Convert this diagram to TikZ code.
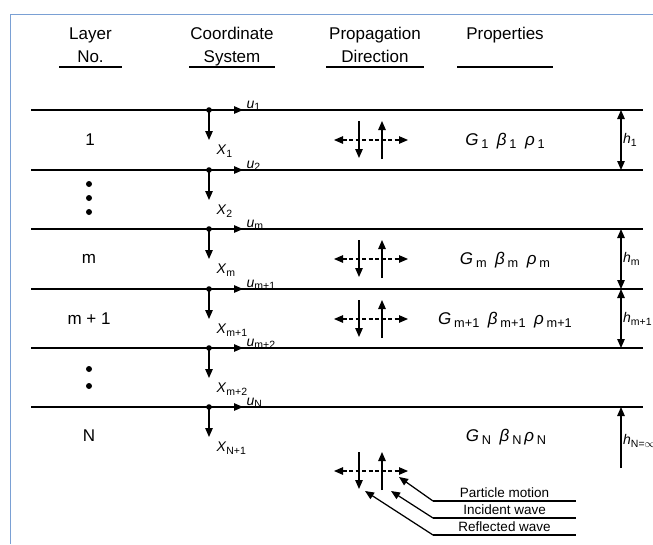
\documentclass[tikz,border=0pt]{standalone}
\usepackage{fontspec}
\setmainfont{Liberation Sans}
\usetikzlibrary{arrows.meta}
\definecolor{framecol}{RGB}{122,160,212}
\newcommand{\lowsub}[1]{\raisebox{-0.4ex}{\scalebox{0.75}{#1}}}
\newcommand{\hstrut}{\rule[-4pt]{0pt}{4pt}}

\begin{document}
\begin{tikzpicture}[x=1pt, y=-1pt, line width=1.25pt, >={Triangle[length=9pt, width=7.5pt]},
    head/.style={font=\fontsize{17}{23}\selectfont, align=center, anchor=south, inner xsep=0pt, inner ysep=0pt},
    layerno/.style={font=\fontsize{17}{20}\selectfont},
    axlabel/.style={font=\fontsize{14}{16}\selectfont, inner sep=1pt},
    hlabel/.style={font=\fontsize{14}{16}\selectfont, inner sep=1.5pt},
    prop/.style={font=\fontsize{17}{20}\selectfont},
    tag/.style={font=\fontsize{13.5}{15}\selectfont, anchor=south west, minimum width=142pt, text depth=0pt, inner xsep=0pt, inner ysep=2.5pt}]
    \useasboundingbox (0,0) rectangle (653,544);

    % frame
    \draw[framecol, line width=1pt] (10.5,544) -- (10.5,14) -- (653,14);

    % column headings
    \node[head, minimum width=61pt] (hLayer) at (90.5,67) {Layer\\No.\hstrut};
    \node[head, minimum width=84pt] (hCoord) at (232,67) {Coordinate\\System\hstrut};
    \node[head, minimum width=96pt] (hProp) at (375,67) {Propagation\\Direction\hstrut};
    \node[head, minimum width=94pt] (hMat) at (505,67) {Properties\\\hstrut};
    \foreach \n in {hLayer, hCoord, hProp, hMat}
        \draw (\n.south west) -- (\n.south east);

    % interfaces
    \foreach \y/\lw in {110/1.4, 170/2.8, 229/1.2, 289/1.7, 348/1.4, 407/1.4}
        \draw[line width=\lw pt] (31,\y) -- (643,\y);

    % layer numbers
    \node[layerno] (l1) at (90,140) {1};
    \node[layerno] (lm) at (89,259) {m};
    \node[layerno] (lm1) at (89,319) {m + 1};
    \node[layerno] (lN) at (89,436) {N};
    \foreach \y in {184,198,212,369,386}
        \fill (89,\y) circle (3pt);

    % local coordinate systems
    \foreach \y/\u/\xx [count=\i] in {110/1/1, 170/2/2, 229/m/m, 289/m+1/m+1, 348/m+2/m+2, 407/N/N+1} {
        \coordinate (o\i) at (209,\y);
        \fill (o\i) circle (2.8pt);
        \draw[->] (o\i) -- ++(34,0) coordinate (ut\i);
        \draw[->] (o\i) -- ++(0,30) coordinate (xt\i);
        \node[axlabel, anchor=base west] (u\i) at ([shift={(2,-2)}]ut\i) {\textit{u}\lowsub{\u}};
        \node[axlabel, anchor=north west] (x\i) at ([shift={(6,3)}]xt\i) {\textit{X}\lowsub{\xx}};
    }

    % propagation directions
    \foreach \cy [count=\j] in {140,259,319,471} {
        \coordinate (pc\j) at (371,\cy);
        \draw[<->, line width=1.1pt, dash pattern=on 4pt off 2.5pt] ([xshift=-37]pc\j) -- ([xshift=37]pc\j);
        \draw[->] ([shift={(-12,-19)}]pc\j) -- ([shift={(-12,18)}]pc\j);
        \draw[->] ([shift={(11,19)}]pc\j) -- ([shift={(11,-19)}]pc\j);
    }

    % properties
    \node[prop] (m1) at (505,141) {\textit{G}\,\lowsub{1}\enspace\textit{β}\,\lowsub{1}\enspace\textit{ρ}\,\lowsub{1}};
    \node[prop] (mm) at (505,260) {\textit{G}\,\lowsub{m}\enspace\textit{β}\,\lowsub{m}\enspace\textit{ρ}\,\lowsub{m}};
    \node[prop] (mm1) at (505,320) {\textit{G}\,\lowsub{m+1}\enspace\textit{β}\,\lowsub{m+1}\enspace\textit{ρ}\,\lowsub{m+1}};
    \node[prop] (mN) at (506,437) {\textit{G}\,\lowsub{N}\enspace\textit{β}\,\lowsub{N}\,\textit{ρ}\,\lowsub{N}};

    % thicknesses
    \draw[<->] (621,110) -- (621,170) node[hlabel, midway, right] (h1) {\textit{h}\lowsub{1}};
    \draw[<->] (621,229) -- (621,289) node[hlabel, midway, right] (hm) {\textit{h}\lowsub{m}};
    \draw[<->] (621,289) -- (621,348) node[hlabel, midway, right] (hm1) {\textit{h}\lowsub{m+1}};
    \draw[->] (621,468) -- (621,407) node[hlabel, pos=0.45, right] (hN) {\textit{h}\lowsub{N}\lowsub{=$\infty$}};

    % legend
    \node[tag] (pm) at (433,501) {Particle motion};
    \node[tag] (iw) at (433,518) {Incident wave};
    \node[tag] (rw) at (433,535) {Reflected wave};
    \foreach \n in {pm, iw, rw}
        \draw (\n.south west) -- (\n.south east);
    \draw[->] (pm.south west) -- ([shift={(28,6)}]pc4);
    \draw[->] (iw.south west) -- ([shift={(20,20)}]pc4);
    \draw[->] (rw.south west) -- ([shift={(-6,20)}]pc4);
\end{tikzpicture}
\end{document}
